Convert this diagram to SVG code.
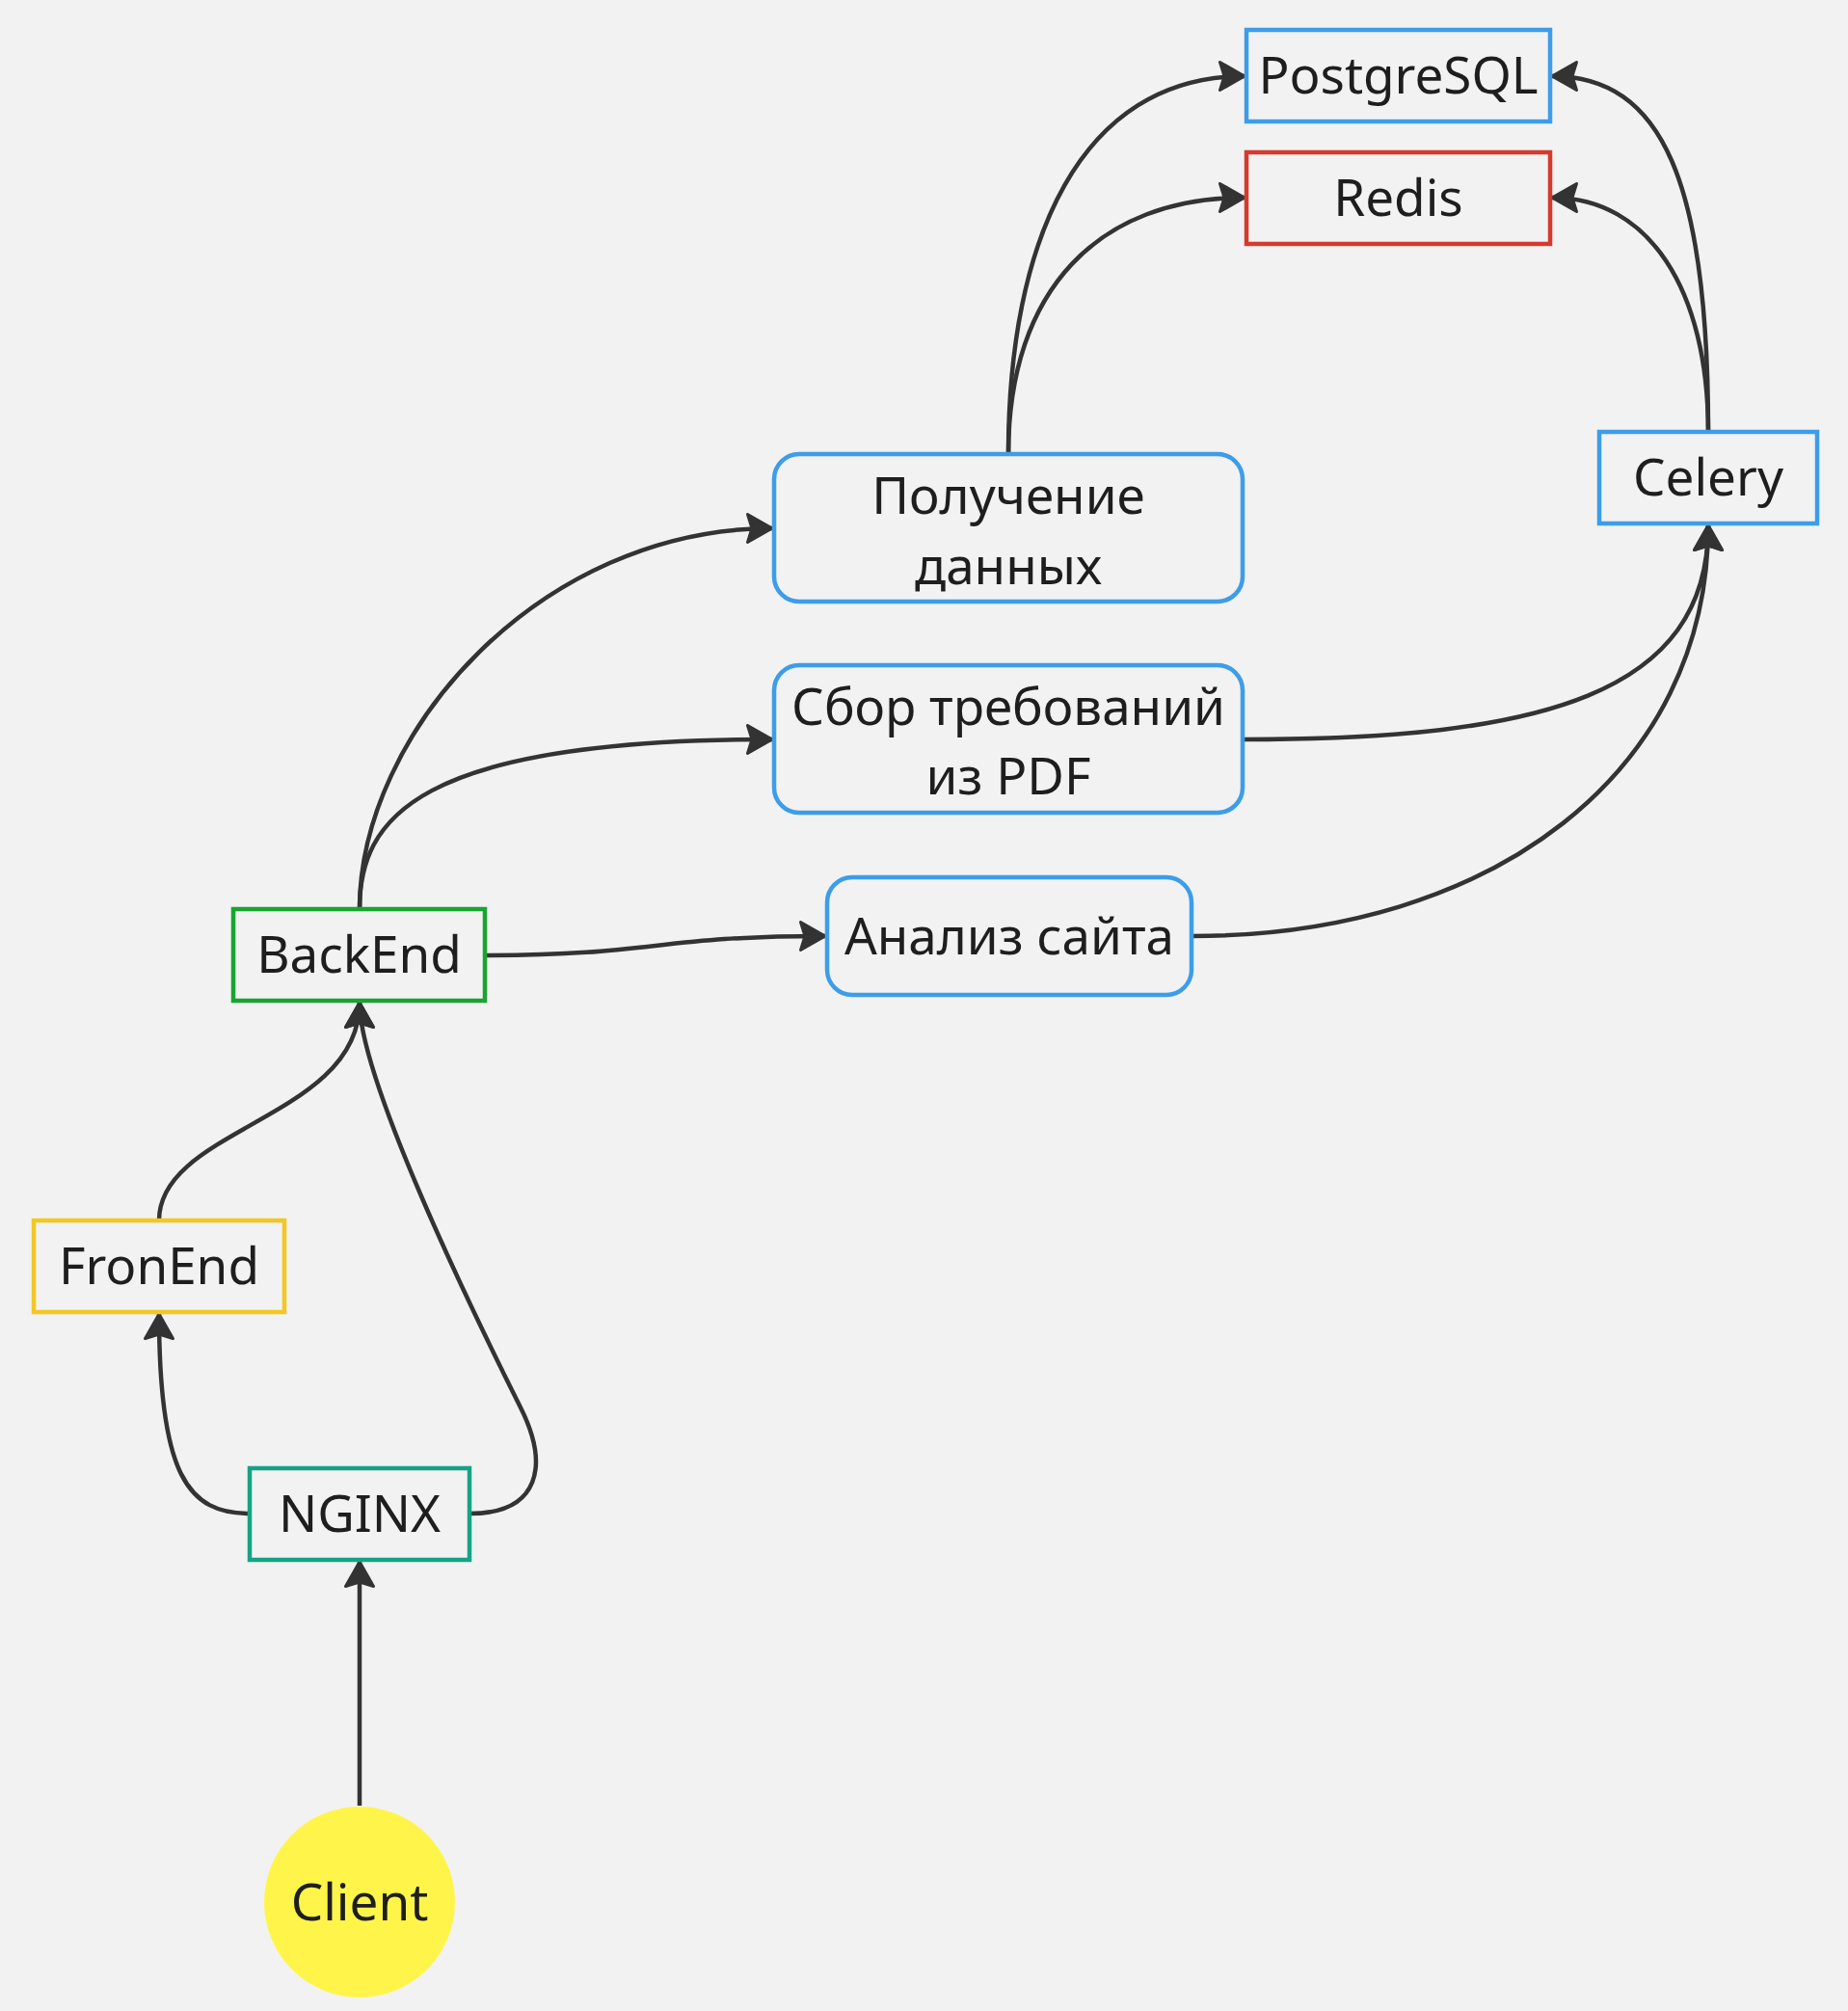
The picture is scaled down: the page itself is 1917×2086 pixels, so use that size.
<svg xmlns="http://www.w3.org/2000/svg" width="1917" height="2086" viewBox="0 0 1917 2086">
<style>
.bg{fill:#f2f2f2}
.box{fill:#f2f2f2;stroke-width:4.5}
.blue{stroke:#3d9de9}
.red{stroke:#d43a2e}
.green{stroke:#17a52f}
.yellow{stroke:#f4c722}
.teal{stroke:#15a386}
.lbl{font-family:"Noto Sans","Open Sans",sans-serif;font-size:53px;fill:#1e1e1e;text-anchor:middle}
.edge{fill:none;stroke:#333333;stroke-width:4.5}
</style>
<defs>
<marker id="arr" markerUnits="userSpaceOnUse" markerWidth="40" markerHeight="40" refX="27" refY="16" orient="auto" overflow="visible">
<path d="M1.5,1.5 L27,16 L1.5,30.5 L6,16 Z" fill="#333333" stroke="#333333" stroke-width="3" stroke-linejoin="round"/>
</marker>
</defs>
<rect class="bg" x="0" y="0" width="1917" height="2086"/>

<g id="connectors">
<path class="edge" d="M373,1873 L373,1620" marker-end="url(#arr)"/>
<path class="edge" d="M259,1570 C195,1570 165,1530 165,1363" marker-end="url(#arr)"/>
<path class="edge" d="M487,1570 C560,1570 570,1520 540,1460 C490,1360 373,1120 373,1040" marker-end="url(#arr)"/>
<path class="edge" d="M165,1266 C165,1170 373,1160 373,1040" marker-end="url(#arr)"/>
<path class="edge" d="M373,943 C373,760 560,548 801,548" marker-end="url(#arr)"/>
<path class="edge" d="M373,943 C373,850 430,767 801,767" marker-end="url(#arr)"/>
<path class="edge" d="M503,991 C680,991 680,971 856,971" marker-end="url(#arr)"/>
<path class="edge" d="M1289,767 C1600,767 1772,720 1772,545" marker-end="url(#arr)"/>
<path class="edge" d="M1236,971 C1550,971 1772,800 1772,545" marker-end="url(#arr)"/>
<path class="edge" d="M1046,471 C1046,250 1120,79 1291,79" marker-end="url(#arr)"/>
<path class="edge" d="M1046,471 C1046,300 1140,205 1291,205" marker-end="url(#arr)"/>
<path class="edge" d="M1772,448 C1772,190 1725,79 1610,79" marker-end="url(#arr)"/>
<path class="edge" d="M1772,448 C1772,300 1710,205 1610,205" marker-end="url(#arr)"/>
</g>

<g id="postgresql">
<rect class="box blue" x="1293" y="31" width="315" height="95"/>
<text class="lbl" x="1450.5" y="97">PostgreSQL</text>
</g>
<g id="redis">
<rect class="box red" x="1293" y="158" width="315" height="95"/>
<text class="lbl" x="1450.5" y="224">Redis</text>
</g>
<g id="celery">
<rect class="box blue" x="1659" y="448" width="226" height="95"/>
<text class="lbl" x="1772" y="514">Celery</text>
</g>
<g id="poluchenie">
<rect class="box blue" x="803" y="471" width="486" height="153" rx="26"/>
<text class="lbl" x="1046" y="533">Получение</text>
<text class="lbl" x="1046" y="606">данных</text>
</g>
<g id="sbor">
<rect class="box blue" x="803" y="690" width="486" height="153" rx="26"/>
<text class="lbl" x="1046" y="752">Сбор требований</text>
<text class="lbl" x="1046" y="824">из PDF</text>
</g>
<g id="analiz">
<rect class="box blue" x="858" y="910" width="378" height="122" rx="26"/>
<text class="lbl" x="1047" y="990">Анализ сайта</text>
</g>
<g id="backend">
<rect class="box green" x="242" y="943" width="261" height="95"/>
<text class="lbl" x="372.5" y="1009">BackEnd</text>
</g>
<g id="frontend">
<rect class="box yellow" x="35" y="1266" width="260" height="95"/>
<text class="lbl" x="165" y="1332">FronEnd</text>
</g>
<g id="nginx">
<rect class="box teal" x="259" y="1523" width="228" height="95"/>
<text class="lbl" x="373" y="1589">NGINX</text>
</g>
<g id="client">
<circle cx="373" cy="1973" r="99" fill="#fff54a"/>
<text class="lbl" x="373" y="1992">Client</text>
</g>
</svg>
